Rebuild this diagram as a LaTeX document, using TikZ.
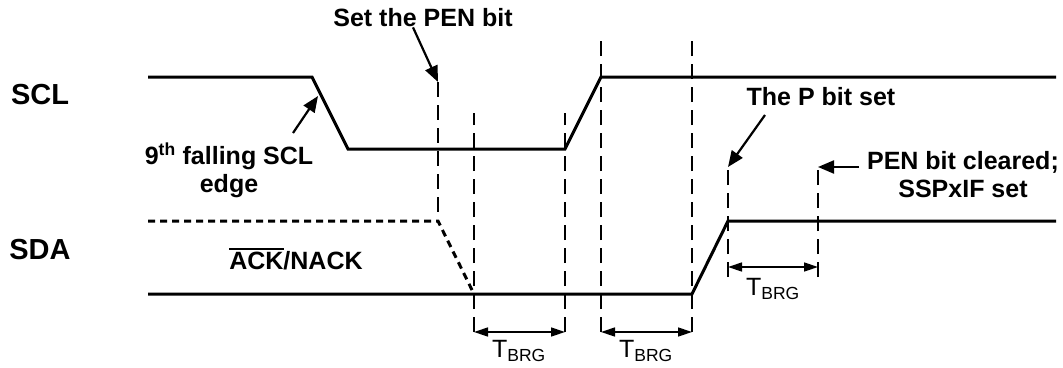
\documentclass[tikz,border=0pt]{standalone}
\usepackage{fontspec}
\setmainfont{Liberation Sans}
\usetikzlibrary{arrows.meta}
\newcommand{\ovl}[1]{\leavevmode\vbox{\hrule height 2pt \kern 3pt \hbox{#1}}}

\begin{document}
\begin{tikzpicture}[x=1pt, y=-1pt,
  >={Triangle[length=16pt,width=13pt]},
  sig/.style={line width=3pt},
  unknown/.style={line width=3pt, dash pattern=on 7pt off 5pt},
  guide/.style={line width=2pt, dash pattern=on 15pt off 8pt},
  callout/.style={->, line width=2.2pt},
  span/.style={{Triangle[length=14pt,width=9pt]}-{Triangle[length=14pt,width=9pt]}, line width=1.4pt},
  lbl/.style={font=\fontsize{25}{28}\selectfont\bfseries, inner sep=0pt, align=center},
  signame/.style={font=\fontsize{29}{32}\selectfont\bfseries, inner sep=0pt},
  tb/.style={font=\fontsize{25}{28}\selectfont, inner sep=0pt},
]
\useasboundingbox (0,0) rectangle (1063,367);

\node[signame] (scl) at (40,95) {SCL};
\node[signame] (sda) at (40,250) {SDA};

% SCL
\coordinate (c0) at (148,77);
\coordinate (c1) at (312,77);
\coordinate (c2) at (348,149);
\coordinate (c3) at (565,149);
\coordinate (c4) at (601,77);
\coordinate (c5) at (1056,77);
\draw[sig] (c0) -- (c1) -- (c2) -- (c3) -- (c4) -- (c5);

% SDA
\coordinate (d0) at (148,221);
\coordinate (d1) at (438,221);
\coordinate (d2) at (474,294);
\coordinate (d3) at (148,294);
\coordinate (d4) at (692,294);
\coordinate (d5) at (728,221);
\coordinate (d6) at (1056,221);
\draw[unknown] (d0) -- (d1) -- (d2);
\draw[sig] (d3) -- (d4) -- (d5) -- (d6);

% guide lines
\coordinate (top1) at (438,82);
\draw[guide] (top1) -- (d1);
\foreach \n/\x/\t/\b in {2/474/113/332, 3/565/113/332, 4/601/40/332, 5/692/40/332, 6/728/167/277, 7/818/167/277}{
  \coordinate (top\n) at (\x,\t);
  \coordinate (bot\n) at (\x,\b);
  \draw[guide] (bot\n) -- (top\n);
}

% T_BRG spans
\draw[span] (bot2) -- (bot3);
\draw[span] (bot4) -- (bot5);
\draw[span] ([yshift=10pt]bot6) -- ([yshift=10pt]bot7);
\node[tb] (tb1) at (519,351) {T\textsubscript{BRG}};
\node[tb] (tb2) at (646,351) {T\textsubscript{BRG}};
\node[tb] (tb3) at (773,289) {T\textsubscript{BRG}};

% callouts
\node[lbl] (pen) at (423,18) {Set the PEN bit};
\draw[callout] ([xshift=-10pt]pen.south) -- (top1);
\node[lbl] (ninth) at (229,170) {9\textsuperscript{th} falling SCL\\edge};
\coordinate (tail9) at (293,133);
\coordinate (tip9) at (318,96);
\draw[callout] (tail9) -- (tip9);
\node[lbl] (ack) at (296,259) {\ovl{ACK}/NACK};
\node[lbl] (pset) at (821,97) {The P bit set};
\coordinate (tailp) at (765,115);
\draw[callout] (tailp) -- (top6);
\node[lbl] (clr) at (963,175) {PEN bit cleared;\\SSPxIF set};
\coordinate (tailc) at (859,167);
\draw[callout] (tailc) -- (top7);
\end{tikzpicture}
\end{document}
